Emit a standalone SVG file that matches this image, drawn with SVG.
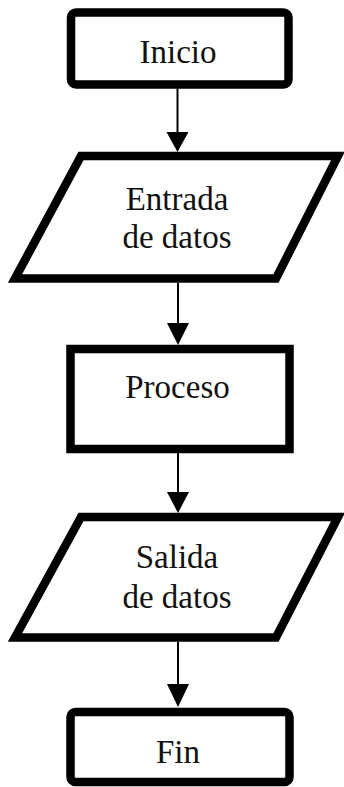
<svg xmlns="http://www.w3.org/2000/svg" width="344" height="787" viewBox="0 0 344 787">
<style>
.shape{fill:#fff;stroke:#000;stroke-width:8.5;stroke-linejoin:miter}
.lbl{font-family:"Liberation Serif","Times New Roman",serif;font-size:33px;fill:#111;text-anchor:middle}
.conn{stroke:#000;stroke-width:2;fill:none}
.head{fill:#000}
</style>
<rect width="344" height="787" fill="#fff"/>
<g id="connectors">
<line class="conn" x1="177.5" y1="88" x2="177.5" y2="134"/>
<polygon class="head" points="166.5,132 188.5,132 177.5,152"/>
<line class="conn" x1="178" y1="283" x2="178" y2="326"/>
<polygon class="head" points="167,323 189,323 178,345"/>
<line class="conn" x1="178" y1="453" x2="178" y2="494"/>
<polygon class="head" points="167,492 189,492 178,513"/>
<line class="conn" x1="178" y1="642" x2="178" y2="686"/>
<polygon class="head" points="167,684 189,684 178,707"/>
</g>
<g id="inicio">
<rect class="shape" x="71" y="12.5" width="217.5" height="72" rx="5"/>
<text class="lbl" x="178" y="63">Inicio</text>
</g>
<g id="entrada">
<polygon class="shape" points="81,156 338,156 276,278.5 15,278.5"/>
<text class="lbl" x="177" y="210">Entrada</text>
<text class="lbl" x="177" y="248">de datos</text>
</g>
<g id="proceso">
<rect class="shape" x="70.5" y="349" width="219" height="100"/>
<text class="lbl" x="177.5" y="398">Proceso</text>
</g>
<g id="salida">
<polygon class="shape" points="81,517 338,517 276,637.5 15,637.5"/>
<text class="lbl" x="177" y="568">Salida</text>
<text class="lbl" x="177" y="608">de datos</text>
</g>
<g id="fin">
<rect class="shape" x="70.5" y="712" width="219" height="70" rx="5"/>
<text class="lbl" x="178" y="763">Fin</text>
</g>
</svg>
